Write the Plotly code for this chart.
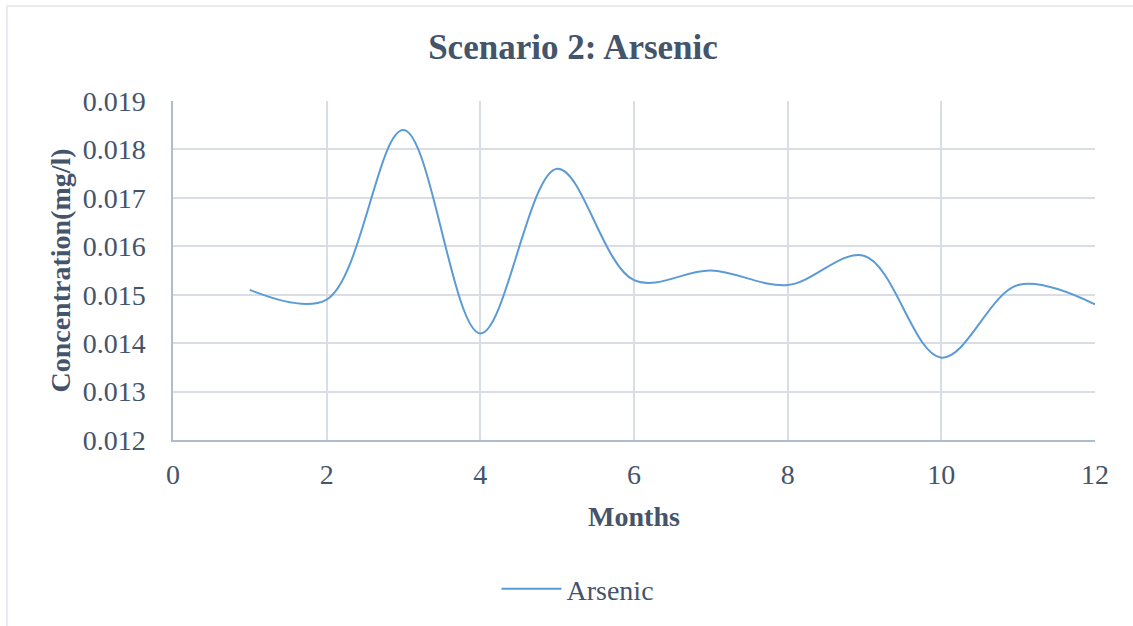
import plotly.graph_objects as go

# Monthly arsenic concentration (mg/l)
months = [1, 2, 3, 4, 5, 6, 7, 8, 9, 10, 11, 12]
arsenic = [0.0151, 0.0149, 0.0184, 0.0142, 0.0176, 0.0153,
           0.0155, 0.0152, 0.0158, 0.0137, 0.0152, 0.0148]

x_ticks = [0, 2, 4, 6, 8, 10, 12]
y_ticks = [0.012, 0.013, 0.014, 0.015, 0.016, 0.017, 0.018, 0.019]

TEXT = "#44546A"
GRID = "#D9DEE6"
AXIS = "#B0BCCC"
FONT = "Liberation Serif"

fig = go.Figure()
fig.add_trace(go.Scatter(
    x=months, y=arsenic, name="Arsenic", mode="lines",
    line=dict(color="#5B9BD5", width=2, shape="spline", smoothing=1.0),
))

fig.update_layout(
    width=1133, height=626,
    margin=dict(l=173, r=38, t=101, b=186),
    paper_bgcolor="white", plot_bgcolor="white",
    font=dict(family=FONT, color=TEXT, size=28),
    title=dict(text="<b>Scenario 2: Arsenic</b>", x=573 / 1133, xref="container",
               xanchor="center", y=1 - 47 / 626, yanchor="middle",
               font=dict(size=35, family=FONT, color=TEXT)),
    showlegend=True,
    legend=dict(orientation="h", x=(578 - 173) / 922, xanchor="center",
                y=-0.44, yanchor="middle", itemwidth=60,
                font=dict(size=28, family=FONT, color=TEXT),
                bgcolor="rgba(0,0,0,0)"),
    xaxis=dict(range=[0, 12], tickvals=x_ticks, ticktext=[str(v) for v in x_ticks],
               showgrid=True, gridcolor=GRID, gridwidth=1.5,
               showline=True, linecolor=AXIS, linewidth=1.5,
               zeroline=False, ticks="", ticklabelstandoff=9,
               tickfont=dict(size=28, family=FONT, color=TEXT),
               title=dict(text="<b>Months</b>", standoff=17,
                          font=dict(size=28, family=FONT, color=TEXT))),
    yaxis=dict(range=[0.012, 0.019], tickvals=y_ticks,
               ticktext=[f"{v:.3f}" for v in y_ticks],
               showgrid=True, gridcolor=GRID, gridwidth=1.5,
               showline=True, linecolor=AXIS, linewidth=1.5,
               zeroline=False, ticks="", ticklabelstandoff=20,
               tickfont=dict(size=28, family=FONT, color=TEXT),
               title=dict(text="<b>Concentration(mg/l)</b>", standoff=4,
                          font=dict(size=28, family=FONT, color=TEXT))),
)

# Chart frame
fig.add_shape(type="rect", xref="paper", yref="paper",
              x0=(7 - 173) / 922, x1=(1160 - 173) / 922,
              y0=(440 - 660) / 339, y1=1 + (101 - 6) / 339,
              line=dict(color="#E1E5EB", width=1.5), layer="below")

fig.write_html("out.html")
